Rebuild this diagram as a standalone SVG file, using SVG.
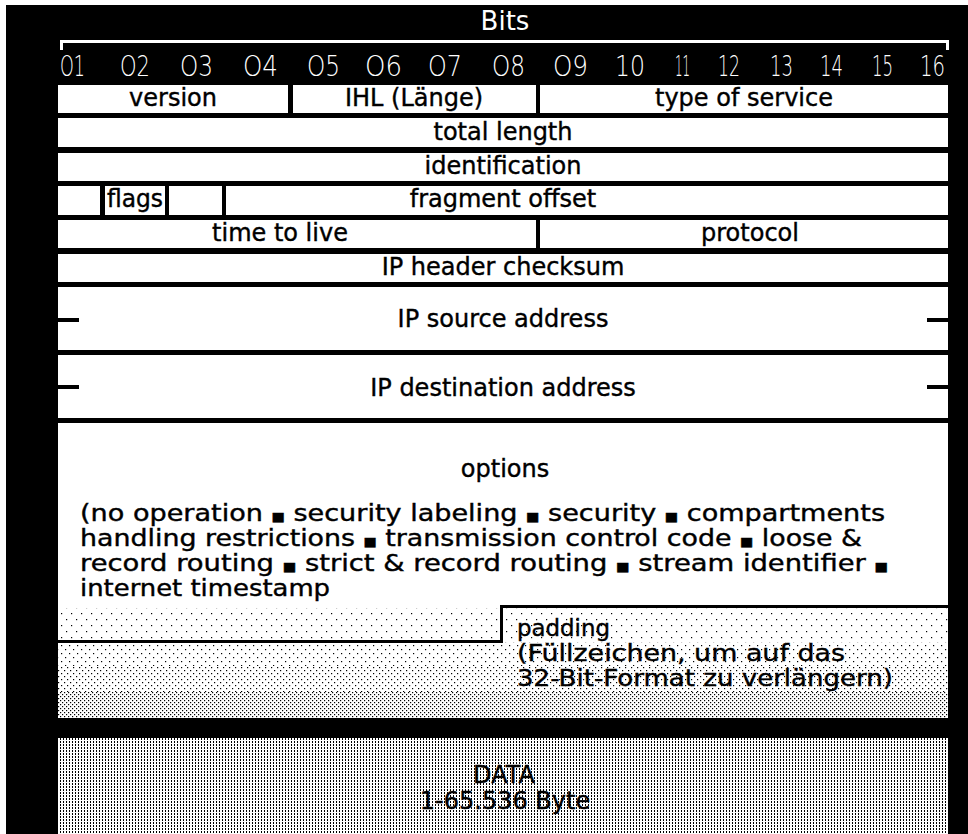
<svg xmlns="http://www.w3.org/2000/svg" width="968" height="834" viewBox="0 0 968 834">
<defs>
<style>
.bg{fill:#000}
.cell{fill:#fff}
.lbl{font-family:"DejaVu Sans","Liberation Sans",sans-serif;font-size:24px;fill:#000;stroke:#000;stroke-width:0.4;text-anchor:middle}
.para{font-family:"DejaVu Sans","Liberation Sans",sans-serif;font-size:23px;fill:#000;stroke:#000;stroke-width:0.4}
.bul{font-size:12px}
.num{font-family:"DejaVu Sans","Liberation Sans",sans-serif;font-weight:200;font-size:29px;fill:#fff}
.title{font-family:"DejaVu Sans","Liberation Sans",sans-serif;font-size:26px;fill:#fff;text-anchor:middle}
.edge{stroke:#000;stroke-width:4;fill:none}
.step{stroke:#000;stroke-width:3;fill:none}
</style>
<pattern id="dots1" width="10" height="12" patternUnits="userSpaceOnUse"><rect x="1" y="1" width="1.2" height="1.2" fill="#000"/><rect x="6" y="7" width="1.2" height="1.2" fill="#000"/></pattern>
<pattern id="dots2" width="8" height="8" patternUnits="userSpaceOnUse"><rect x="1" y="1" width="1.2" height="1.2" fill="#000"/><rect x="5" y="5" width="1.2" height="1.2" fill="#000"/></pattern>
<pattern id="dots3" width="6" height="6" patternUnits="userSpaceOnUse"><rect x="1" y="1" width="1.2" height="1.2" fill="#000"/><rect x="4" y="4" width="1.2" height="1.2" fill="#000"/></pattern>
<pattern id="dots4" width="4" height="4" patternUnits="userSpaceOnUse"><rect x="0" y="0" width="1.2" height="1.2" fill="#000"/><rect x="2" y="2" width="1.2" height="1.2" fill="#000"/></pattern>
<pattern id="dotsData" width="3" height="3" patternUnits="userSpaceOnUse"><rect x="0" y="0" width="1" height="2" fill="#000"/></pattern>
</defs>

<rect class="bg" x="6" y="5" width="962" height="829"/>

<g id="header">
<text class="title" x="505" y="30">Bits</text>
<path d="M61.5 50 V41.5 H947.5 V50" stroke="#fff" stroke-width="3" fill="none"/>
<text class="num" x="60" y="76" textLength="25" lengthAdjust="spacingAndGlyphs">O1</text>
<text class="num" x="120" y="76" textLength="30" lengthAdjust="spacingAndGlyphs">O2</text>
<text class="num" x="180" y="76" textLength="33" lengthAdjust="spacingAndGlyphs">O3</text>
<text class="num" x="243" y="76" textLength="35" lengthAdjust="spacingAndGlyphs">O4</text>
<text class="num" x="307" y="76" textLength="33" lengthAdjust="spacingAndGlyphs">O5</text>
<text class="num" x="365" y="76" textLength="37" lengthAdjust="spacingAndGlyphs">O6</text>
<text class="num" x="428" y="76" textLength="34" lengthAdjust="spacingAndGlyphs">O7</text>
<text class="num" x="492" y="76" textLength="33" lengthAdjust="spacingAndGlyphs">O8</text>
<text class="num" x="553" y="76" textLength="35" lengthAdjust="spacingAndGlyphs">O9</text>
<text class="num" x="615" y="76" textLength="30" lengthAdjust="spacingAndGlyphs">10</text>
<text class="num" x="675" y="76" textLength="15" lengthAdjust="spacingAndGlyphs">11</text>
<text class="num" x="718" y="76" textLength="22" lengthAdjust="spacingAndGlyphs">12</text>
<text class="num" x="770" y="76" textLength="23" lengthAdjust="spacingAndGlyphs">13</text>
<text class="num" x="820" y="76" textLength="23" lengthAdjust="spacingAndGlyphs">14</text>
<text class="num" x="872" y="76" textLength="21" lengthAdjust="spacingAndGlyphs">15</text>
<text class="num" x="920" y="76" textLength="25" lengthAdjust="spacingAndGlyphs">16</text>
</g>

<g id="version"><rect class="cell" x="58" y="85" width="230" height="28"/><text class="lbl" x="173" y="106">version</text></g>
<g id="ihl"><rect class="cell" x="293" y="85" width="243" height="28"/><text class="lbl" x="414" y="106">IHL (Länge)</text></g>
<g id="tos"><rect class="cell" x="540" y="85" width="408" height="28"/><text class="lbl" x="744" y="106">type of service</text></g>

<g id="total-length"><rect class="cell" x="58" y="118" width="890" height="29"/><text class="lbl" x="503" y="140">total length</text></g>
<g id="identification"><rect class="cell" x="58" y="153" width="890" height="28"/><text class="lbl" x="503" y="174">identification</text></g>

<g id="flags-row">
<rect class="cell" x="58" y="186" width="42" height="29"/>
<rect class="cell" x="105" y="186" width="60" height="29"/>
<text class="lbl" x="135" y="207" textLength="56" lengthAdjust="spacingAndGlyphs">flags</text>
<rect class="cell" x="169" y="186" width="53" height="29"/>
</g>
<g id="fragment-offset"><rect class="cell" x="226" y="186" width="722" height="29"/><text class="lbl" x="503" y="207">fragment offset</text></g>

<g id="ttl"><rect class="cell" x="58" y="220" width="478" height="28"/><text class="lbl" x="280" y="241">time to live</text></g>
<g id="protocol"><rect class="cell" x="540" y="220" width="408" height="28"/><text class="lbl" x="750" y="241">protocol</text></g>

<g id="checksum"><rect class="cell" x="58" y="254" width="890" height="28"/><text class="lbl" x="503" y="275">IP header checksum</text></g>

<g id="source"><rect class="cell" x="58" y="287" width="890" height="63"/><text class="lbl" x="503" y="327">IP source address</text>
<path class="edge" d="M58 320 H79 M927 320 H948"/></g>
<g id="destination"><rect class="cell" x="58" y="355" width="890" height="63"/><text class="lbl" x="503" y="396">IP destination address</text>
<path class="edge" d="M58 387 H79 M927 387 H948"/></g>

<g id="options">
<rect class="cell" x="58" y="423" width="890" height="295"/>
<rect x="58" y="608" width="443" height="34" fill="url(#dots1)"/>
<rect x="501" y="606" width="447" height="36" fill="url(#dots1)"/>
<rect x="58" y="642" width="890" height="24" fill="url(#dots2)"/>
<rect x="58" y="666" width="890" height="26" fill="url(#dots3)"/>
<rect x="58" y="692" width="890" height="26" fill="url(#dots4)"/>
<text class="lbl" x="505" y="477">options</text>
<text class="para" x="80" y="521" textLength="805" lengthAdjust="spacingAndGlyphs">(no operation <tspan class="bul">■</tspan> security labeling <tspan class="bul">■</tspan> security <tspan class="bul">■</tspan> compartments</text>
<text class="para" x="80" y="546" textLength="782" lengthAdjust="spacingAndGlyphs">handling restrictions <tspan class="bul">■</tspan> transmission control code <tspan class="bul">■</tspan> loose &amp;</text>
<text class="para" x="80" y="571" textLength="808" lengthAdjust="spacingAndGlyphs">record routing <tspan class="bul">■</tspan> strict &amp; record routing <tspan class="bul">■</tspan> stream identifier <tspan class="bul">■</tspan></text>
<text class="para" x="80" y="596" textLength="250" lengthAdjust="spacingAndGlyphs">internet timestamp</text>
</g>

<g id="padding">
<path class="step" d="M58 641.5 H501.5 V606.5 H948"/>
<text class="para" x="517" y="636" textLength="93" lengthAdjust="spacingAndGlyphs">padding</text>
<text class="para" x="517" y="661" textLength="328" lengthAdjust="spacingAndGlyphs">(Füllzeichen, um auf das</text>
<text class="para" x="517" y="686" textLength="376" lengthAdjust="spacingAndGlyphs">32-Bit-Format zu verlängern)</text>
</g>

<g id="data">
<rect class="cell" x="58" y="738" width="890" height="96"/>
<rect x="58" y="738" width="890" height="96" fill="url(#dotsData)"/>
<text class="lbl" x="504" y="783">DATA</text>
<text class="lbl" x="505" y="809">1-65.536 Byte</text>
</g>
</svg>
